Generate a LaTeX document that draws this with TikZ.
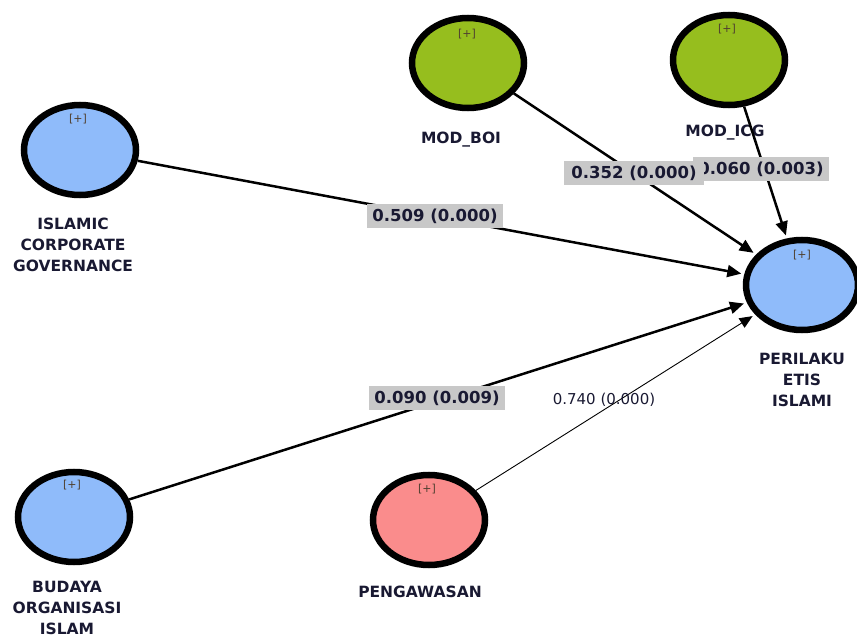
\documentclass[tikz,border=0pt]{standalone}
\usepackage{fontspec}
\setmainfont{DejaVu Sans}
\usetikzlibrary{shapes.geometric,arrows.meta}
\definecolor{lvblue}{RGB}{143,187,250}
\definecolor{lvgreen}{RGB}{150,190,30}
\definecolor{lvred}{RGB}{250,140,140}
\definecolor{txt}{RGB}{25,25,50}
\definecolor{plusc}{RGB}{80,64,48}
\definecolor{boxgray}{RGB}{200,200,200}
\begin{document}
\begin{tikzpicture}[x=1pt,y=-1pt,
  lv/.style={ellipse,draw=black,line width=6.5pt,minimum width=112pt,minimum height=90pt,inner sep=0pt},
  lvname/.style={font=\fontsize{15.5}{21}\selectfont\bfseries,text=txt,align=center,inner sep=0pt},
  plus/.style={font=\fontsize{11}{12}\selectfont,text=plusc,inner sep=0pt},
  pathline/.style={line width=2.5pt,-{Triangle[length=14pt,width=12pt]},shorten >=3pt},
  thinline/.style={line width=0.9pt,-{Triangle[length=13pt,width=11pt]},shorten >=3pt},
  coef/.style={fill=boxgray,font=\fontsize{16.5}{18}\selectfont\bfseries,text=txt,inner xsep=5pt,inner ysep=5pt},
  coefplain/.style={font=\fontsize{15}{18}\selectfont,text=txt,inner sep=0pt}]
\useasboundingbox (0,0) rectangle (857,639);

% latent variables
\node[lv,fill=lvblue]  (icg)  at (80,150)  {};
\node[lv,fill=lvgreen] (boi)  at (468,63)  {};
\node[lv,fill=lvgreen] (micg) at (729,60)  {};
\node[lv,fill=lvblue]  (pel)  at (802,285) {};
\node[lv,fill=lvblue]  (bud)  at (74,517)  {};
\node[lv,fill=lvred]   (pen)  at (429,520) {};

% [+] marks
\node[plus] (icgp)  at (78,119)  {[+]};
\node[plus] (boip)  at (467,34)  {[+]};
\node[plus] (micgp) at (727,29)  {[+]};
\node[plus] (pelp)  at (802,255) {[+]};
\node[plus] (budp)  at (72,485)  {[+]};
\node[plus] (penp)  at (427,489) {[+]};

% names
\node[lvname] (icgn)  at (73,245)  {ISLAMIC\\CORPORATE\\GOVERNANCE};
\node[lvname] (boin)  at (461,140) {MOD\_BOI};
\node[lvname] (micgn) at (725,133) {MOD\_ICG};
\node[lvname] (peln)  at (802,380) {PERILAKU\\ETIS\\ISLAMI};
\node[lvname] (budn)  at (67,608)  {BUDAYA\\ORGANISASI\\ISLAM};
\node[lvname] (penn)  at (420,592) {PENGAWASAN};

% paths
\draw[pathline] (icg) -- (pel);
\draw[pathline] (boi) -- (pel);
\draw[pathline] (micg) -- (pel);
\draw[pathline] (bud) -- (pel);
\draw[thinline] (pen) -- (pel);

% coefficients
\node[coef] (c1) at (435,216) {0.509 (0.000)};
\node[coef] (c3) at (761,169) {0.060 (0.003)};
\node[coef,inner xsep=7pt] (c2) at (634,173) {0.352 (0.000)};
\node[coef] (c4) at (437,398) {0.090 (0.009)};
\node[coefplain] (c5) at (604,400) {0.740 (0.000)};
\end{tikzpicture}
\end{document}
